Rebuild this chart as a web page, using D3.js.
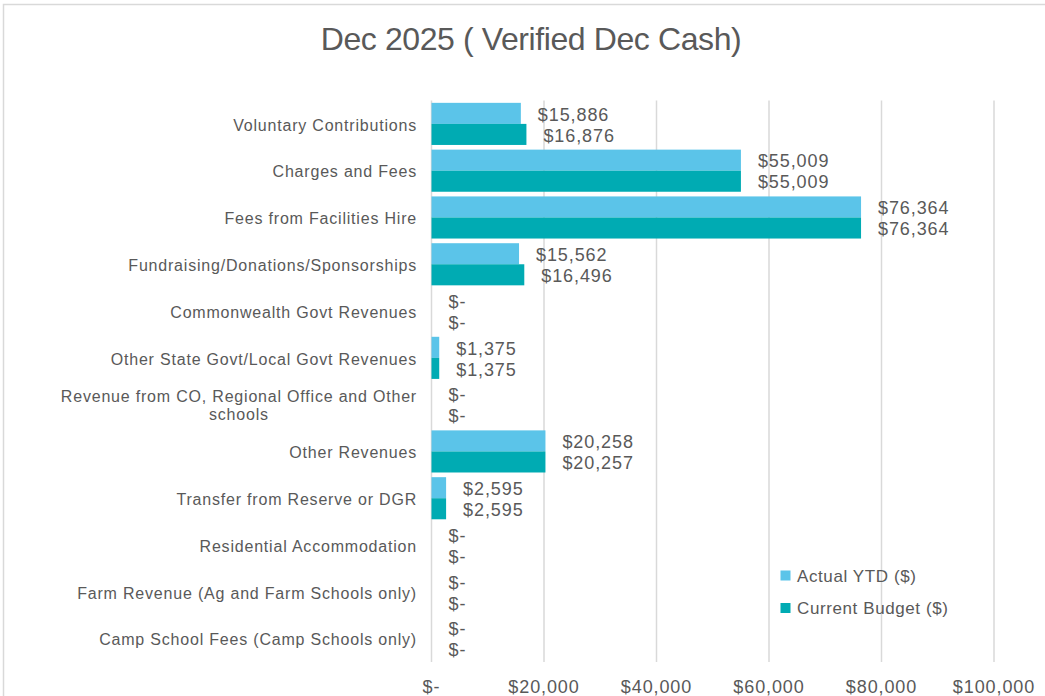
<!DOCTYPE html>
<html>
<head>
<meta charset="utf-8">
<script src="https://cdn.jsdelivr.net/npm/d3@7"></script>
<style>
  body { margin: 0; background: #fff; }
  svg { display: block; font-family: "Liberation Sans", Arial, sans-serif; }
</style>
</head>
<body>
<svg width="1045" height="696"></svg>
<script>
var categories = [
  "Voluntary Contributions",
  "Charges and Fees",
  "Fees from Facilities Hire",
  "Fundraising/Donations/Sponsorships",
  "Commonwealth Govt Revenues",
  "Other State Govt/Local Govt Revenues",
  "Revenue from CO, Regional Office and Other schools",
  "Other Revenues",
  "Transfer from Reserve or DGR",
  "Residential Accommodation",
  "Farm Revenue (Ag and Farm Schools only)",
  "Camp School Fees (Camp Schools only)"
];
var actualYTD = [15886, 55009, 76364, 15562, 0, 1375, 0, 20258, 2595, 0, 0, 0];
var currentBudget = [16876, 55009, 76364, 16496, 0, 1375, 0, 20257, 2595, 0, 0, 0];
var seriesNames = ["Actual YTD ($)", "Current Budget ($)"];
var xTicks = [0, 20000, 40000, 60000, 80000, 100000];

var colors = ["#5BC4E9", "#00ABB3"];
var textColor = "#595959";
var gridColor = "#d9d9d9";

var svg = d3.select("svg");

// chart border
svg.append("rect")
  .attr("x", 3.5).attr("y", 4.5)
  .attr("width", 1100).attr("height", 800)
  .attr("fill", "none").attr("stroke", gridColor).attr("stroke-width", 1.5);

svg.append("text")
  .attr("x", 531).attr("y", 42)
  .attr("text-anchor", "middle").attr("dominant-baseline", "middle")
  .attr("fill", textColor)
  .style("font-size", "32px").style("letter-spacing", "-0.4px")
  .text("Dec 2025 ( Verified Dec Cash)");

var x = d3.scaleLinear().domain([0, 100000]).range([431.5, 994]);
var y = d3.scaleBand().domain(categories).range([100.5, 662]).paddingInner(0.1).paddingOuter(0.05);
var y1 = d3.scaleBand().domain([0, 1]).range([0, y.bandwidth()]);

// gridlines
svg.append("g").selectAll("line")
  .data(xTicks)
  .enter().append("line")
  .attr("x1", function (d) { return x(d); })
  .attr("x2", function (d) { return x(d); })
  .attr("y1", 100.5).attr("y2", 662)
  .attr("stroke", gridColor).attr("stroke-width", 1.5);

// x tick labels
svg.append("g").selectAll("text")
  .data(xTicks)
  .enter().append("text")
  .attr("x", function (d) { return x(d); })
  .attr("y", 688)
  .attr("text-anchor", "middle").attr("dominant-baseline", "middle")
  .attr("fill", textColor)
  .style("font-size", "18px").style("letter-spacing", "0.9px")
  .text(function (d) { return d === 0 ? "$-" : "$" + d3.format(",")(d); });

var fmt = function (v) { return v === 0 ? "$-" : "$" + d3.format(",")(v); };

var rows = categories.map(function (c, i) {
  return { cat: c, vals: [actualYTD[i], currentBudget[i]] };
});

var groups = svg.append("g").selectAll("g")
  .data(rows)
  .enter().append("g")
  .attr("transform", function (d) { return "translate(0," + y(d.cat) + ")"; });

groups.selectAll("rect")
  .data(function (d) { return d.vals; })
  .enter().append("rect")
  .attr("x", x(0))
  .attr("y", function (d, i) { return y1(i); })
  .attr("width", function (d) { return x(d) - x(0); })
  .attr("height", y1.bandwidth())
  .attr("fill", function (d, i) { return colors[i]; });

groups.selectAll("text.val")
  .data(function (d) { return d.vals; })
  .enter().append("text")
  .attr("class", "val")
  .attr("x", function (d) { return x(d) + 17; })
  .attr("y", function (d, i) { return y1(i) + y1.bandwidth() / 2 + 2.5; })
  .attr("dominant-baseline", "middle")
  .attr("fill", textColor)
  .style("font-size", "18px").style("letter-spacing", "0.9px")
  .text(fmt);

// category labels, wrapped when too wide
var labelRight = 417;
var catLabels = svg.append("g").selectAll("text")
  .data(categories)
  .enter().append("text")
  .attr("fill", textColor)
  .style("font-size", "16px").style("letter-spacing", "0.8px")
  .attr("dominant-baseline", "middle")
  .each(function (d) {
    var t = d3.select(this);
    var cy = y(d) + y.bandwidth() / 2 + 2.5;
    var words = d.split(" ");
    var lines = [], line = [];
    var probe = t.append("tspan");
    words.forEach(function (w) {
      line.push(w);
      probe.text(line.join(" "));
      if (probe.node().getComputedTextLength() > 370 && line.length > 1) {
        line.pop();
        lines.push(line.join(" "));
        line = [w];
      }
    });
    lines.push(line.join(" "));
    probe.remove();
    if (lines.length === 1) {
      t.attr("text-anchor", "end").attr("x", labelRight).attr("y", cy).text(d);
    } else {
      t.text(lines[0]);
      var w0 = this.getComputedTextLength();
      t.text(null).attr("text-anchor", "middle");
      var lh = 18.5;
      lines.forEach(function (l, k) {
        t.append("tspan")
          .attr("x", labelRight - w0 / 2)
          .attr("y", cy + (k - (lines.length - 1) / 2) * lh)
          .text(l);
      });
    }
  });

// legend
var legend = svg.append("g").selectAll("g")
  .data(seriesNames)
  .enter().append("g")
  .attr("transform", function (d, i) { return "translate(780.5," + (575.5 + i * 32.5) + ")"; });
legend.append("rect")
  .attr("x", 0).attr("y", -5).attr("width", 10).attr("height", 10)
  .attr("fill", function (d, i) { return colors[i]; });
legend.append("text")
  .attr("x", 16.5).attr("y", 2)
  .attr("dominant-baseline", "middle")
  .attr("fill", textColor)
  .style("font-size", "17px").style("letter-spacing", "0.6px")
  .text(function (d) { return d; });
</script>
</body>
</html>
